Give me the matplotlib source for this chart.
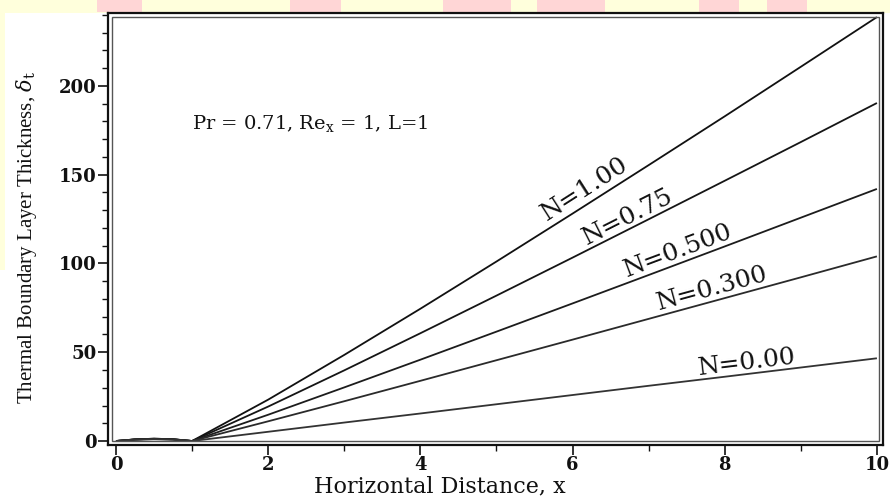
import numpy as np
import matplotlib
matplotlib.use("Agg")
import matplotlib.pyplot as plt
from matplotlib.patches import Rectangle
from matplotlib.ticker import MultipleLocator

# data (curves bend very slightly, values read at unit steps)
n_labels = ["N=1.00", "N=0.75", "N=0.500", "N=0.300", "N=0.00"]
x_vals = [0.0, 0.25, 0.5, 0.75, 1.0, 2.0, 3.0, 4.0, 5.0, 6.0, 7.0, 8.0, 9.0, 10.0]
delta_n100 = [0.0, 0.9, 1.3, 1.0, 0.0, 23.3, 48.5, 74.5, 101.1, 128.1, 155.4, 182.9, 210.8, 238.8]
delta_n075 = [0.0, 0.9, 1.3, 1.0, 0.0, 19.4, 39.8, 60.7, 81.9, 103.3, 124.9, 146.6, 168.4, 190.4]
delta_n050 = [0.0, 0.9, 1.2, 0.9, 0.0, 14.8, 30.2, 45.8, 61.6, 77.5, 93.5, 109.6, 125.8, 142.0]
delta_n030 = [0.0, 0.8, 1.1, 0.9, 0.0, 11.1, 22.4, 33.9, 45.5, 57.1, 68.8, 80.5, 92.2, 104.0]
delta_n000 = [0.0, 0.8, 1.0, 0.8, 0.0, 5.2, 10.4, 15.5, 20.7, 25.9, 31.1, 36.2, 41.4, 46.6]
label_x = [6.16, 6.73, 7.38, 7.83, 8.29]
label_y = [142.0, 126.0, 107.0, 86.0, 44.0]

x_ticks = [0, 2, 4, 6, 8, 10]
y_ticks = [0, 50, 100, 150, 200]

series = [delta_n100, delta_n075, delta_n050, delta_n030, delta_n000]
colors = ["#111111", "#151515", "#1c1c1c", "#2a2a2a", "#333333"]

plt.rcParams["mathtext.fontset"] = "dejavuserif"

W, H = 890, 497
fig = plt.figure(figsize=(W / 100, H / 100), dpi=100)
fig.patch.set_facecolor("#FFFFDC")

# slide background bits: blurred pink title behind, white picture area
for x0, x1 in [(97, 142), (290, 341), (443, 511), (537, 605), (699, 739), (767, 807)]:
    fig.add_artist(Rectangle((x0 / W, 1 - 12 / H), (x1 - x0) / W, 12 / H,
                             transform=fig.transFigure, facecolor="#FFD6D6",
                             edgecolor="none", zorder=-3))
fig.add_artist(Rectangle((5 / W, 0), 1 - 5 / W, 1 - 13 / H, transform=fig.transFigure,
                         facecolor="white", edgecolor="none", zorder=-2))
fig.add_artist(Rectangle((0, 0), 5 / W, 1 - 270 / H, transform=fig.transFigure,
                         facecolor="white", edgecolor="none", zorder=-2))

left, right, top, bottom = 108, 883, 13, 445
ax = fig.add_axes([left / W, 1 - bottom / H, (right - left) / W, (bottom - top) / H])
ax.set_facecolor("white")
ax.set_xlim(-0.105, 10.08)
ax.set_ylim(-2.25, 241.1)

for ys, c in zip(series, colors):
    ax.plot(x_vals, ys, color=c, lw=1.3, solid_capstyle="butt")

# labels along the lines, parallel to the local slope
for lab, lx, ly, ys in zip(n_labels, label_x, label_y, series):
    p0 = ax.transData.transform((x_vals[9], ys[9]))
    p1 = ax.transData.transform((x_vals[11], ys[11]))
    ang = np.degrees(np.arctan2(p1[1] - p0[1], p1[0] - p0[0]))
    ax.text(lx, ly, lab, rotation=ang, rotation_mode="anchor", ha="center",
            va="center", family="DejaVu Serif", fontsize=18, color="#111111")

ax.text(1.0, 179, r"Pr = 0.71, Re$_{\mathrm{x}}$ = 1, L=1", ha="left", va="center",
        family="DejaVu Serif", fontsize=14, color="#111111")

# boxed frame, doubled like the original
for s in ax.spines.values():
    s.set_linewidth(1.6)
    s.set_color("#111111")
inset = 4
fig.add_artist(Rectangle(((left + inset) / W, 1 - (bottom - inset) / H),
                         (right - left - 2 * inset) / W, (bottom - top - 2 * inset) / H,
                         transform=fig.transFigure, fill=False, edgecolor="#555555",
                         lw=1.0, zorder=5))

ax.set_xticks(x_ticks)
ax.set_yticks(y_ticks)
ax.xaxis.set_minor_locator(MultipleLocator(1))
ax.yaxis.set_minor_locator(MultipleLocator(10))
ax.tick_params(which="major", direction="out", length=7, width=1.2, pad=1,
               top=False, right=False, colors="#111111")
ax.tick_params(which="minor", direction="out", length=4, width=1.0,
               top=False, right=False, colors="#111111")
for t in ax.get_xticklabels() + ax.get_yticklabels():
    t.set_family("DejaVu Serif")
    t.set_fontweight("bold")
    t.set_fontsize(13)

fig.text(440 / W, 1 - 486 / H, "Horizontal Distance, x", ha="center", va="center",
         family="DejaVu Serif", fontsize=16, color="#111111")
fig.text(27 / W, 1 - 238 / H, r"Thermal Boundary Layer Thickness, $\delta_{\mathrm{t}}$",
         rotation=90, ha="center", va="center", family="Liberation Serif",
         fontsize=15, color="#111111")

fig.savefig("out.png", dpi=100, facecolor=fig.get_facecolor())
